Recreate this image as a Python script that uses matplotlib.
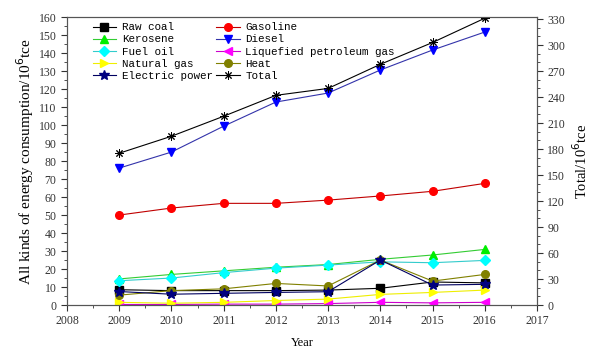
import numpy as np
import matplotlib
matplotlib.use("Agg")
import matplotlib.pyplot as plt
from matplotlib.ticker import MultipleLocator

years = [2009, 2010, 2011, 2012, 2013, 2014, 2015, 2016]

raw_coal = [8.5, 8.0, 8.0, 8.0, 8.3, 9.3, 12.8, 12.3]
gasoline = [50.0, 53.9, 56.5, 56.5, 58.3, 60.6, 63.2, 67.6]
kerosene = [14.5, 17.0, 19.0, 21.0, 22.5, 25.4, 27.8, 30.9]
diesel = [76.1, 85.0, 99.4, 112.8, 117.8, 130.6, 141.7, 151.7]
fuel_oil = [13.5, 15.0, 18.0, 20.5, 22.2, 24.0, 23.5, 24.8]
lpg = [0.3, 0.3, 0.5, 0.5, 0.8, 1.5, 1.2, 1.5]
natural_gas = [1.5, 1.0, 1.5, 2.5, 3.3, 5.9, 7.0, 8.3]
heat = [5.5, 8.0, 9.0, 12.0, 10.6, 25.0, 13.3, 17.0]
electric = [7.5, 6.0, 6.5, 7.0, 7.4, 25.0, 11.1, 11.5]
total = [175.2, 194.8, 217.9, 242.0, 250.0, 277.8, 303.0, 331.0]

series = [
    ("Raw coal", raw_coal, "black", "black", "s"),
    ("Gasoline", gasoline, "#c00000", "red", "o"),
    ("Kerosene", kerosene, "#33cc33", "#00ee00", "^"),
    ("Diesel", diesel, "#3333aa", "#0000ff", "v"),
    ("Fuel oil", fuel_oil, "#33cccc", "#00ffff", "D"),
    ("Liquefied petroleum gas", lpg, "#cc00cc", "#ff00ff", "<"),
    ("Natural gas", natural_gas, "#eeee00", "#ffff00", ">"),
    ("Heat", heat, "#808000", "#808000", "o"),
    ("Electric power", electric, "#000060", "#000080", "*"),
]

serif = ["Liberation Serif", "DejaVu Serif"]
mono = ["Liberation Mono", "DejaVu Sans Mono"]

fig = plt.figure(figsize=(5.89, 3.49), dpi=100)
ax = fig.add_axes([0.1138, 0.126, 0.7979, 0.825])
ax2 = ax.twinx()

handles = {}
for name, vals, lc, mc, mk in series:
    ms = 7.5 if mk == "*" else 5.5
    h, = ax.plot(years, vals, color=lc, lw=0.8, marker=mk, markersize=ms,
                 markerfacecolor=mc, markeredgecolor=mc, label=name)
    handles[name] = h

ht, = ax2.plot(years, total, color="black", lw=0.8, marker=(8, 2, 0),
               markersize=6, markeredgewidth=0.7, label="Total")
handles["Total"] = ht

ax.set_xlim(2008, 2017)
ax.set_ylim(0, 160)
ax2.set_ylim(0, 332.3)
ax.xaxis.set_major_locator(MultipleLocator(1))
ax.xaxis.set_minor_locator(MultipleLocator(0.5))
ax.yaxis.set_major_locator(MultipleLocator(10))
ax.yaxis.set_minor_locator(MultipleLocator(5))
ax2.yaxis.set_major_locator(MultipleLocator(30))
ax2.yaxis.set_minor_locator(MultipleLocator(10))

for a in (ax, ax2):
    a.tick_params(which="both", direction="out", colors="#333333",
                  labelsize=8.5, labelcolor="#333333")
    a.tick_params(which="major", length=4)
    a.tick_params(which="minor", length=2)
    for lab in a.get_xticklabels() + a.get_yticklabels():
        lab.set_family(serif)
    for s in a.spines.values():
        s.set_color("#555555")
ax.tick_params(top=False, which="both")

ax.set_xlabel("Year", family=serif, fontsize=9, labelpad=7)
ax.set_ylabel("All kinds of energy consumption/10$^6$tce", family=serif,
              fontsize=11, labelpad=2)
ax2.set_ylabel("Total/10$^6$tce", family=serif, fontsize=10.5, labelpad=4)

order = ["Raw coal", "Kerosene", "Fuel oil", "Natural gas", "Electric power",
         "Gasoline", "Diesel", "Liquefied petroleum gas", "Heat", "Total"]
leg = ax2.legend([handles[n] for n in order], order, ncol=2, frameon=False,
                 loc="upper left", bbox_to_anchor=(0.045, 0.997),
                 prop={"family": mono, "size": 7.8}, handlelength=2.2,
                 handletextpad=0.5, columnspacing=0.3, labelspacing=0.2,
                 borderaxespad=0.0)

fig.savefig("out.png", dpi=100)
